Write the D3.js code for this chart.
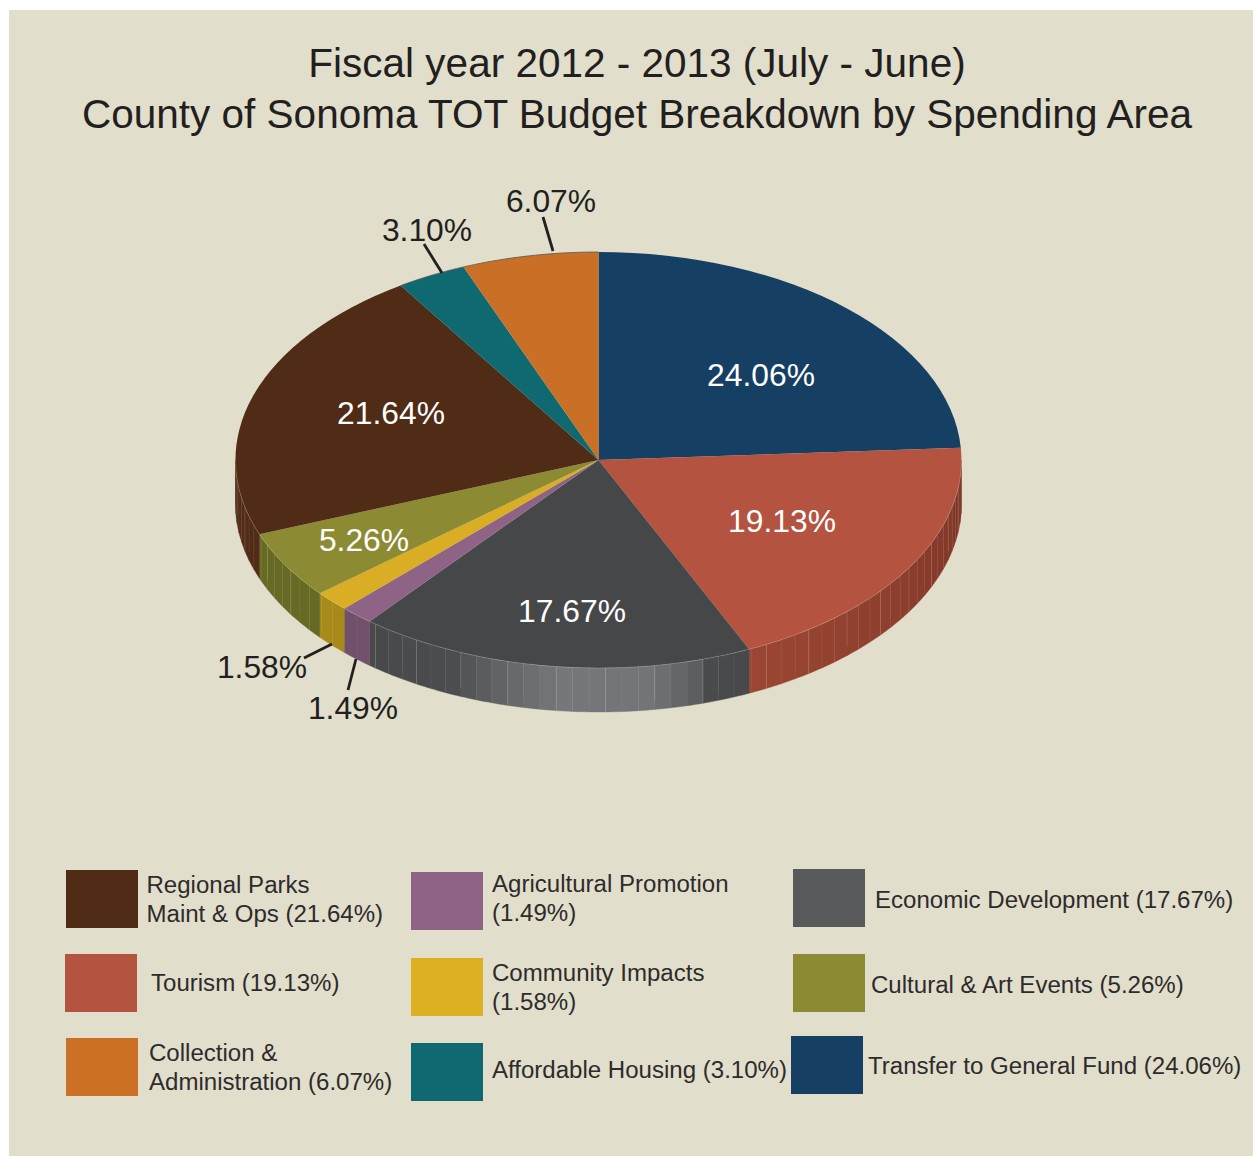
<!DOCTYPE html>
<html>
<head>
<meta charset="utf-8">
<title>County of Sonoma TOT Budget</title>
<script src="https://cdn.jsdelivr.net/npm/d3@7"></script>
<style>
  body { margin: 0; background: #fff; }
  svg { display: block; font-family: "Liberation Sans", Arial, sans-serif; }
</style>
</head>
<body>
<svg id="chart" width="1253" height="1156"></svg>
<script>
/* data, clockwise from 12 o'clock */
const categories = ['Transfer to General Fund', 'Tourism', 'Economic Development', 'Agricultural Promotion',
  'Community Impacts', 'Cultural & Art Events', 'Regional Parks Maint & Ops', 'Affordable Housing', 'Collection & Administration'];
const shares = [24.06, 19.13, 17.67, 1.49, 1.58, 5.26, 21.64, 3.10, 6.07];
const topColors = ['#153f63', '#b35340', '#464749', '#8f6385', '#d9ae24', '#8c8a33', '#502c17', '#0e6a70', '#c96f26'];
const sideColors = ['#153f63', '#94422f', '#48494b', '#70506a', '#a88a1a', '#676a24', '#502c17', '#0e6a70', '#c96f26'];
const swatchColors = ['#153f63', '#b35340', '#58595b', '#8f6385', '#dcb021', '#8c8a33', '#502c17', '#0e6a70', '#cc7026'];
const titleLines = ['Fiscal year 2012 - 2013 (July - June)', 'County of Sonoma TOT Budget Breakdown by Spending Area'];
const legendLines = [
  ['Transfer to General Fund (24.06%)'],
  ['Tourism (19.13%)'],
  ['Economic Development (17.67%)'],
  ['Agricultural Promotion', '(1.49%)'],
  ['Community Impacts', '(1.58%)'],
  ['Cultural & Art Events (5.26%)'],
  ['Regional Parks', 'Maint & Ops (21.64%)'],
  ['Affordable Housing (3.10%)'],
  ['Collection &', 'Administration (6.07%)']
];

/* layout */
const W = 1253, H = 1156;
const CX = 598.5, CY = 460, RX = 363, RY = 208, DEPTH = 44;
const INK = '#231f20';
const TITLE_SIZE = 40.5, PCT_SIZE = 31.8, LEGEND_SIZE = 24.05;
const SWATCH_W = 72, SWATCH_H = 58;
// hand placed in the original, so kept as a table: [labelX, baseline, color, leader x1,y1,x2,y2]
const pctLayout = [
  [761, 386, '#fff'], [782, 532, '#fff'], [572, 622, '#fff'],
  [353, 719, INK, 348, 690, 356, 659], [262, 678, INK, 304, 658, 332, 644],
  [364, 551, '#fff'], [391, 424, '#fff'],
  [427, 241, INK, 424, 244, 442, 273], [551, 212, INK, 543, 217, 553, 251]
];
// swatch x, swatch y, text x, first baseline
const legendLayout = [
  [791, 1036, 868, 1074], [65, 954, 151, 991], [793, 869, 875, 908],
  [411, 872, 492, 892], [411, 958, 492, 981], [793, 954, 871, 993],
  [66, 870, 146.5, 892.5], [411, 1043, 492, 1078], [66, 1038, 149, 1061]
];

const svg = d3.select('#chart');
svg.append('rect').attr('x', 9).attr('y', 10).attr('width', W - 9).attr('height', H - 10).attr('fill', '#e1decb');

/* ── Title ─────────────────────────────────────────────────── */
svg.selectAll('text.title').data(titleLines).join('text')
  .attr('class', 'title')
  .attr('x', 637).attr('y', (d, i) => 77 + i * 51)
  .attr('text-anchor', 'middle')
  .attr('font-size', TITLE_SIZE)
  .attr('fill', INK)
  .text(d => d);

/* ── Pie ───────────────────────────────────────────────────── */
const slices = d3.pie().sort(null).value(d => d)(shares);
const arc = d3.arc().innerRadius(0).outerRadius(1);
const rimX = a => CX + RX * Math.sin(a);
const rimY = a => CY - RY * Math.cos(a);
const rad = deg => deg * Math.PI / 180;

// Economic Development wall has a highlight along the front
const econShade = d3.scaleLinear()
  .domain([155, 163.2, 163.4, 172, 186, 196, 204, 219].map(rad))
  .range(['#48494b', '#4a4b4d', '#5a5b5d', '#737477', '#76777a', '#626365', '#4b4c4e', '#48494b']);
const tourismShade = d3.scaleLinear()
  .domain([rad(86), rad(155)])
  .range(['#7a3425', '#9b4633']);

function wallColor(i, a) {
  if (i === 2) return econShade(a);
  if (i === 1) return tourismShade(a);
  return sideColors[i];
}

// Side wall: only what faces the viewer (right edge round to left edge)
const walls = svg.append('g').attr('class', 'walls');
const STEP = rad(2.6);
slices.forEach((s, i) => {
  const a0 = Math.max(s.startAngle, Math.PI / 2);
  const a1 = Math.min(s.endAngle, Math.PI * 1.5);
  if (a1 <= a0) return;
  const cuts = d3.range(a0, a1, STEP).concat(a1);
  d3.pairs(cuts).forEach(([p, q], k) => {
    const mid = (p + q) / 2;
    const pts = d3.range(0, 1.01, 0.25).map(t => p + (q - p) * t);
    const d = 'M' + pts.map(a => [rimX(a), rimY(a)]).join('L')
      + 'L' + pts.reverse().map(a => [rimX(a), rimY(a) + DEPTH]).join('L') + 'Z';
    walls.append('path').attr('d', d).attr('fill', wallColor(i, mid))
      .attr('stroke', wallColor(i, mid)).attr('stroke-width', 0.4);
    if (k > 0) {
      walls.append('line')
        .attr('x1', rimX(p)).attr('y1', rimY(p))
        .attr('x2', rimX(p)).attr('y2', rimY(p) + DEPTH * (k % 4 === 2 ? 0.8 : 1))
        .attr('stroke', '#fff').attr('stroke-width', 0.6)
        .attr('stroke-opacity', k % 3 === 0 ? 0.26 : 0.1);
    }
  });
});

const pieTop = svg.append('g').attr('transform', `translate(${CX},${CY}) scale(${RX},${RY})`);
pieTop.selectAll('path').data(slices).join('path')
  .attr('d', arc)
  .attr('fill', (d, i) => topColors[i]);

// thin rim: dark along the back, pale along the front
const rimArc = (a0, a1) => {
  const pts = d3.range(a0, a1, rad(1)).concat(a1);
  return d3.line().x(rimX).y(rimY)(pts);
};
svg.append('path').attr('d', rimArc(rad(327), rad(360)))
  .attr('fill', 'none').attr('stroke', '#55554f').attr('stroke-width', 0.8);
svg.append('path').attr('d', rimArc(rad(90), rad(270)))
  .attr('fill', 'none').attr('stroke', '#fff').attr('stroke-width', 0.6).attr('stroke-opacity', 0.3);

/* ── Percent labels ────────────────────────────────────────── */
const fmt = d3.format('.2f');
const labels = svg.append('g');
shares.forEach((v, i) => {
  const [x, y, color, x1, y1, x2, y2] = pctLayout[i];
  labels.append('text')
    .attr('x', x).attr('y', y)
    .attr('text-anchor', 'middle')
    .attr('font-size', PCT_SIZE)
    .attr('fill', color)
    .text(fmt(v) + '%');
  if (x1 !== undefined) {
    labels.append('line')
      .attr('x1', x1).attr('y1', y1).attr('x2', x2).attr('y2', y2)
      .attr('stroke', INK).attr('stroke-width', 2.8);
  }
});

/* ── Legend ────────────────────────────────────────────────── */
const legend = svg.append('g');
categories.forEach((name, i) => {
  const [sx, sy, tx, ty] = legendLayout[i];
  legend.append('rect')
    .attr('x', sx).attr('y', sy)
    .attr('width', SWATCH_W).attr('height', SWATCH_H)
    .attr('fill', swatchColors[i]);
  legendLines[i].forEach((line, k) => {
    legend.append('text')
      .attr('x', tx).attr('y', ty + k * 29)
      .attr('font-size', LEGEND_SIZE)
      .attr('fill', '#2e2b2c')
      .text(line);
  });
});
</script>
</body>
</html>
